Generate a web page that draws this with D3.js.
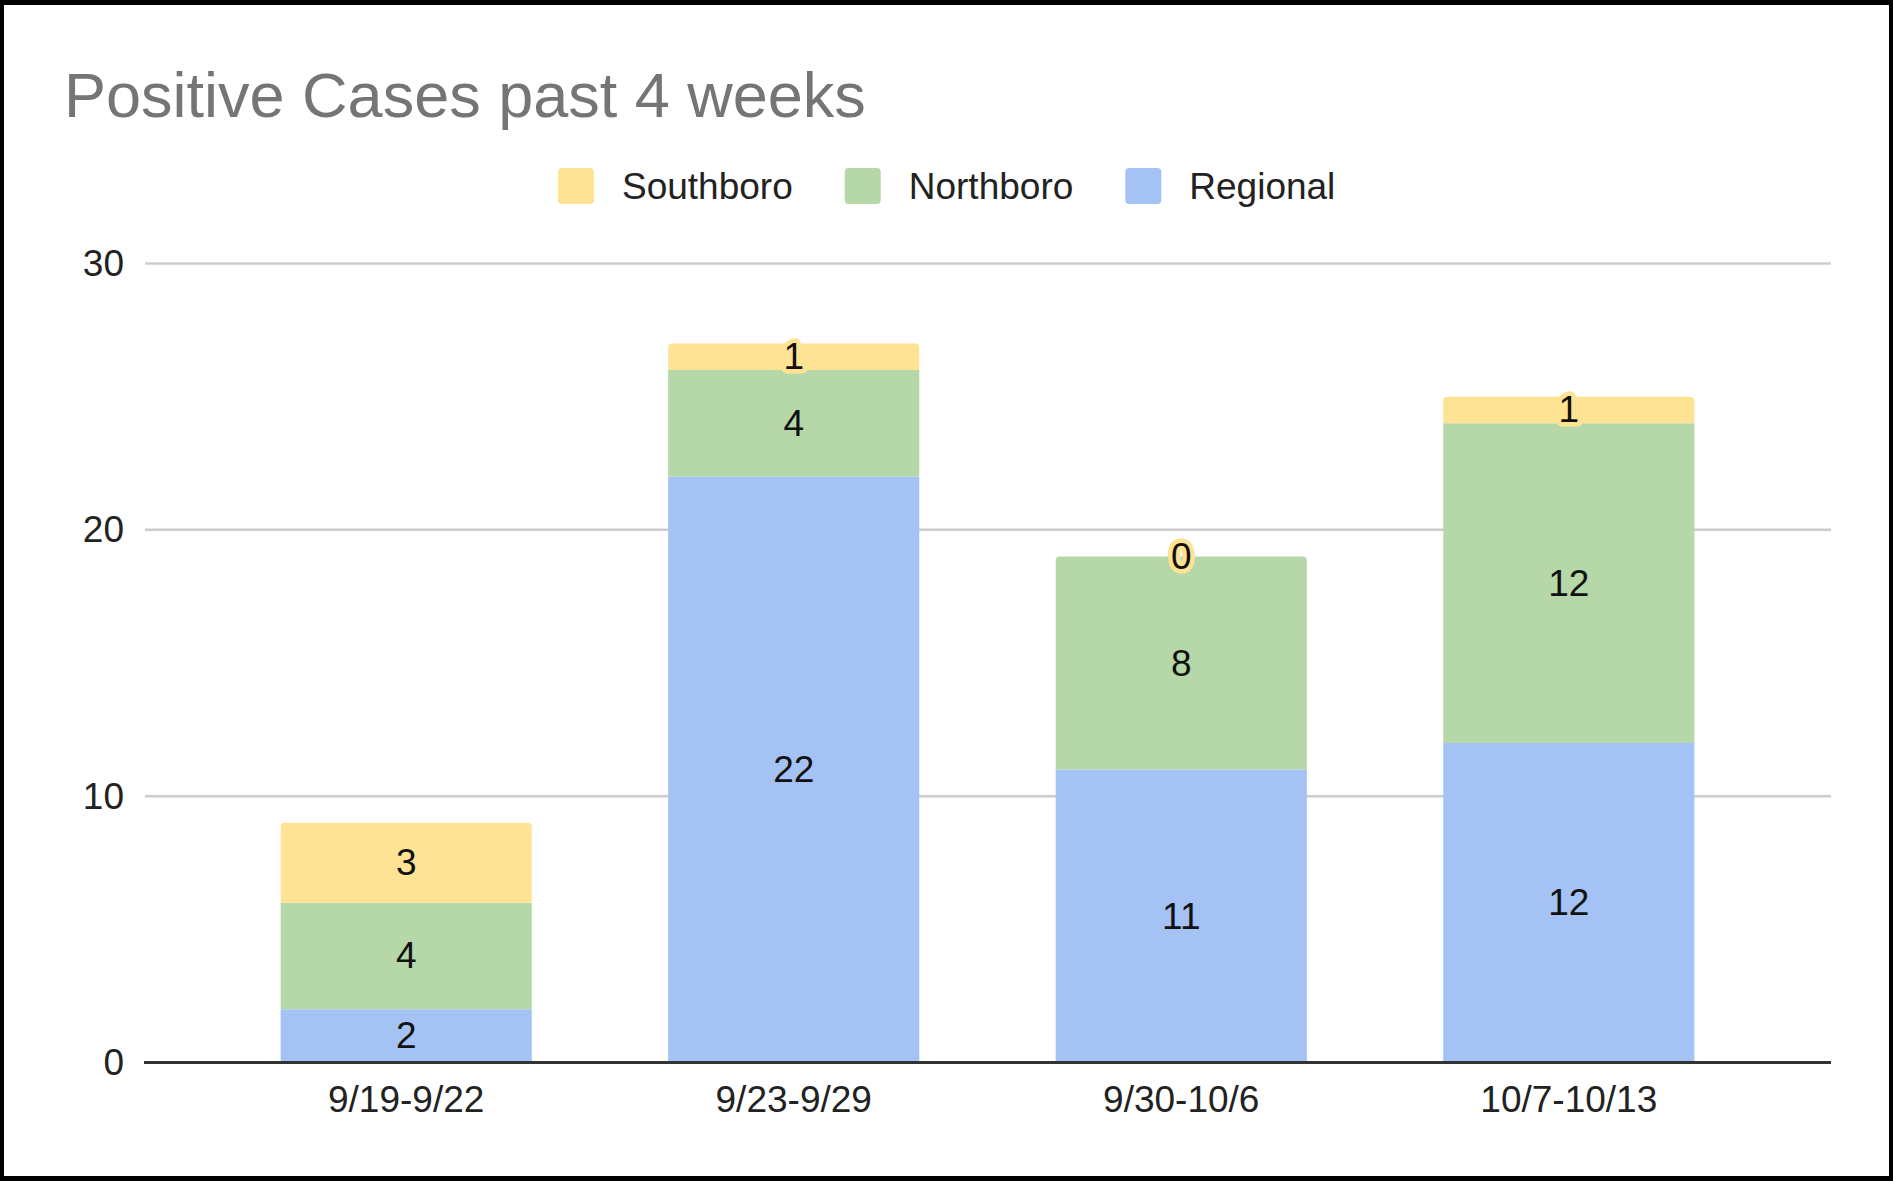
<!DOCTYPE html>
<html>
<head>
<meta charset="utf-8">
<script src="https://cdn.jsdelivr.net/npm/d3@7"></script>
<style>
  html, body { margin: 0; padding: 0; background: #fff; }
  svg { display: block; }
  text { font-family: "Liberation Sans", Arial, Helvetica, sans-serif; }
</style>
</head>
<body>
<svg id="chart" width="1893" height="1181"></svg>
<script>
const title = "Positive Cases past 4 weeks";
const categories = ["9/19-9/22", "9/23-9/29", "9/30-10/6", "10/7-10/13"];
const seriesNames = ["Regional", "Northboro", "Southboro"];
const regional  = [2, 22, 11, 12];
const northboro = [4, 4, 8, 12];
const southboro = [3, 1, 0, 1];
const seriesColors = ["#a4c2f4", "#b6d7a8", "#fee394"];
const legendOrder = ["Southboro", "Northboro", "Regional"];
const yTicks = [0, 10, 20, 30];

const W = 1893, H = 1181;
const svg = d3.select("#chart");

// frame
svg.append("rect").attr("x", 0).attr("y", 0).attr("width", W).attr("height", H).attr("fill", "#000");
svg.append("rect").attr("x", 4).attr("y", 5).attr("width", 1885).attr("height", 1171).attr("fill", "#fff");

// title
svg.append("text").attr("x", 64).attr("y", 117)
  .attr("font-size", 63).attr("fill", "#757575").text(title);

const table = categories.map((c, i) => ({
  cat: c, Regional: regional[i], Northboro: northboro[i], Southboro: southboro[i]
}));
const stack = d3.stack().keys(seriesNames)(table);
const color = d3.scaleOrdinal().domain(seriesNames).range(seriesColors);

const x = d3.scaleBand().domain(categories).range([145, 1830]).paddingInner(0.352).paddingOuter(0.35);
const y = d3.scaleLinear().domain([0, 30]).range([1062.5, 263.5]);

// gridlines
svg.append("g").selectAll("line").data(yTicks.filter(t => t > 0)).join("line")
  .attr("x1", 145).attr("x2", 1831)
  .attr("y1", d => y(d)).attr("y2", d => y(d))
  .attr("stroke", "#cccccc").attr("stroke-width", 2.5);

// y tick labels
svg.append("g").selectAll("text").data(yTicks).join("text")
  .attr("x", 124).attr("y", d => y(d))
  .attr("text-anchor", "end").attr("dominant-baseline", "central")
  .attr("font-size", 37).attr("fill", "#222").text(d => d);

// find top segment index per category
const topIdx = categories.map((c, i) => {
  let t = 0;
  stack.forEach((s, k) => { if (s[i][1] - s[i][0] > 0) t = k; });
  return t;
});

function segPath(x0, y0, w, h, r) {
  if (h <= 0) return "";
  r = Math.min(r, h, w / 2);
  return `M${x0},${y0 + h} L${x0},${y0 + r} Q${x0},${y0} ${x0 + r},${y0} L${x0 + w - r},${y0} Q${x0 + w},${y0} ${x0 + w},${y0 + r} L${x0 + w},${y0 + h} Z`;
}

// bars
const gBars = svg.append("g");
stack.forEach((s, k) => {
  gBars.append("g").selectAll("path").data(s).join("path")
    .attr("fill", color(s.key))
    .attr("d", (d, i) => {
      const x0 = x(d.data.cat), w = x.bandwidth();
      const y0 = y(d[1]), h = y(d[0]) - y(d[1]);
      return segPath(x0, y0, w, h, topIdx[i] === k ? 4 : 0);
    });
});

// x axis baseline
svg.append("line").attr("x1", 144).attr("x2", 1831).attr("y1", y(0)).attr("y2", y(0))
  .attr("stroke", "#333").attr("stroke-width", 3);

// data labels
const gLab = svg.append("g");
stack.forEach((s, k) => {
  gLab.append("g").selectAll("text").data(s).join("text")
    .attr("x", d => x(d.data.cat) + x.bandwidth() / 2)
    .attr("y", d => y((d[0] + d[1]) / 2))
    .attr("text-anchor", "middle").attr("dominant-baseline", "central")
    .attr("font-size", 37).attr("fill", "#111")
    .attr("stroke", d => (y(d[0]) - y(d[1]) < 40 ? color(s.key) : "none"))
    .attr("stroke-width", 9).attr("stroke-linejoin", "round")
    .attr("paint-order", "stroke")
    .text(d => d[1] - d[0]);
});

// x labels
svg.append("g").selectAll("text").data(categories).join("text")
  .attr("x", d => x(d) + x.bandwidth() / 2).attr("y", 1099)
  .attr("text-anchor", "middle").attr("dominant-baseline", "central")
  .attr("font-size", 37).attr("fill", "#222").text(d => d);

// legend
const gLeg = svg.append("g");
let lx = 558;
legendOrder.forEach(name => {
  gLeg.append("rect").attr("x", lx).attr("y", 168).attr("width", 36).attr("height", 36)
    .attr("rx", 4).attr("fill", color(name));
  const t = gLeg.append("text").attr("x", lx + 64).attr("y", 186)
    .attr("dominant-baseline", "central").attr("font-size", 37).attr("fill", "#222").text(name);
  lx = lx + 64 + t.node().getComputedTextLength() + 52;
});
</script>
</body>
</html>
